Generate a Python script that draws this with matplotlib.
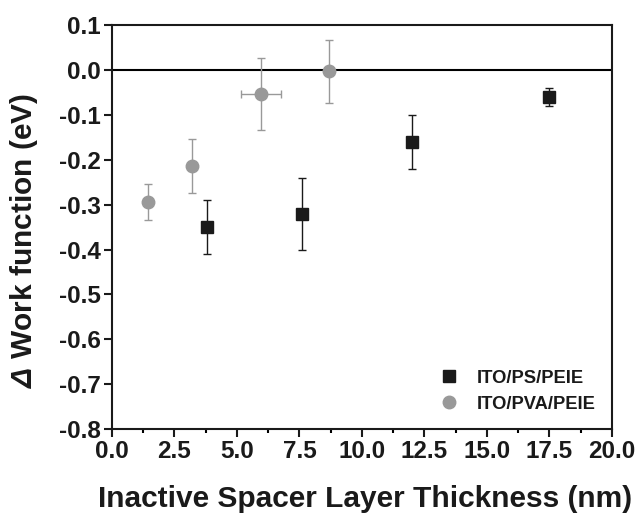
import matplotlib
matplotlib.use("Agg")
import matplotlib.pyplot as plt
from matplotlib.ticker import MultipleLocator

plt.rcParams['font.family'] = ['Liberation Sans', 'DejaVu Sans']
plt.rcParams['font.weight'] = 'bold'
# italic thin delta: greek capitals are taken from the rm slot in mathtext
plt.rcParams['mathtext.fontset'] = 'custom'
plt.rcParams['mathtext.rm'] = 'Liberation Sans:italic'
plt.rcParams['mathtext.it'] = 'Liberation Sans:italic'
plt.rcParams['mathtext.default'] = 'rm'

# ITO/PS/PEIE data
ps_x = [3.8, 7.6, 12.0, 17.5]
ps_y = [-0.35, -0.32, -0.16, -0.06]
ps_err = [0.06, 0.08, 0.06, 0.02]

# ITO/PVA/PEIE data
pva_x = [1.45, 3.2, 5.95, 8.7]
pva_y = [-0.295, -0.213, -0.053, -0.003]
pva_yerr = [0.04, 0.06, 0.08, 0.07]
pva_xerr = [0, 0, 0.8, 0]

dark = '#1a1a1a'
grey = '#999999'

fig = plt.figure(figsize=(6.4, 5.15), dpi=100)
ax = fig.add_axes([0.175, 0.167, 0.781, 0.784])

ax.axhline(0, color='black', lw=1.5, zorder=1)

# error bars
ax.errorbar(ps_x, ps_y, yerr=ps_err, fmt='none', ecolor=dark,
            elinewidth=1, capsize=3, capthick=1, zorder=2)
ax.errorbar(pva_x, pva_y, yerr=pva_yerr, xerr=pva_xerr, fmt='none', ecolor=grey,
            elinewidth=1, capsize=3, capthick=1, zorder=2)

# markers
ax.plot(ps_x, ps_y, 's', color=dark, ms=8, ls='none', label='ITO/PS/PEIE', zorder=3)
ax.plot(pva_x, pva_y, 'o', color=grey, ms=9, ls='none', label='ITO/PVA/PEIE', zorder=3)

xticks = [0, 2.5, 5, 7.5, 10, 12.5, 15, 17.5, 20]
yticks = [0.1, 0.0, -0.1, -0.2, -0.3, -0.4, -0.5, -0.6, -0.7, -0.8]

ax.set_xlim(0, 20)
ax.set_ylim(-0.8, 0.1)
ax.set_xticks(xticks)
ax.set_xticklabels([f'{v:.1f}' for v in xticks])
ax.set_yticks(yticks)
ax.set_yticklabels([f'{v:.1f}' for v in yticks])
ax.xaxis.set_minor_locator(MultipleLocator(1.25))
ax.tick_params(axis='both', which='major', direction='out', length=6, width=1.5,
               labelsize=17.5, colors=dark, top=False, right=False, pad=2)
ax.tick_params(axis='x', which='minor', direction='out', length=3, width=1.5)
for s in ax.spines.values():
    s.set_linewidth(1.5)
    s.set_color(dark)

ax.set_xlabel('Inactive Spacer Layer Thickness (nm)', fontsize=21.5, fontweight='bold',
              color=dark)
ax.xaxis.set_label_coords(0.506, -0.138)
ax.set_ylabel(r'$Δ$ Work function (eV)', fontsize=21.5, fontweight='bold', color=dark)
ax.yaxis.set_label_coords(-0.145, 0.468)

leg = ax.legend(loc='lower right', frameon=False, fontsize=13.2, handletextpad=0.55,
                labelspacing=0.5, borderpad=0, borderaxespad=0,
                bbox_to_anchor=(0.968, 0.04))
for t in leg.get_texts():
    t.set_fontweight('bold')
    t.set_color(dark)

plt.savefig('out.png', dpi=100)
